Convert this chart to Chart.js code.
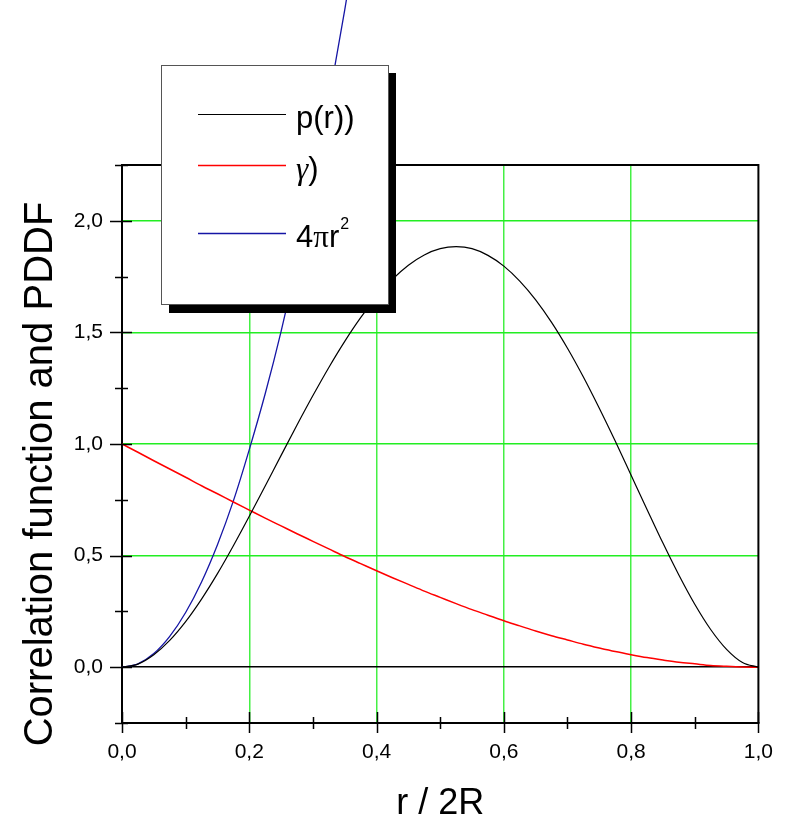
<!DOCTYPE html>
<html>
<head>
<meta charset="utf-8">
<script src="https://cdn.jsdelivr.net/npm/chart.js@4"></script>
<style>
  body { margin: 0; background: #fff; }
</style>
</head>
<body>
<canvas id="pddf" width="790" height="819"></canvas>
<script>
// r / 2R positions
const rValues = [0, 0.025, 0.05, 0.075, 0.1, 0.125, 0.15, 0.175, 0.2, 0.225, 0.25, 0.275, 0.3, 0.325,
    0.35, 0.375, 0.4, 0.425, 0.45, 0.475, 0.5, 0.525, 0.55, 0.575, 0.6, 0.625, 0.65, 0.675, 0.7,
    0.725, 0.75, 0.775, 0.8, 0.825, 0.85, 0.875, 0.9, 0.925, 0.95, 0.975, 1.0];

// p(r)  (black)
const pddf = [0, 0.014, 0.056, 0.120, 0.204, 0.305, 0.419, 0.544, 0.676, 0.812, 0.949, 1.085, 1.217,
    1.343, 1.460, 1.566, 1.659, 1.738, 1.801, 1.847, 1.875, 1.884, 1.875, 1.845, 1.797, 1.730,
    1.646, 1.545, 1.429, 1.300, 1.160, 1.013, 0.860, 0.707, 0.556, 0.413, 0.282, 0.169, 0.080,
    0.021, 0];

// gamma(r)  (red)
const gamma = [1.0, 0.963, 0.925, 0.888, 0.851, 0.813, 0.777, 0.740, 0.704, 0.668, 0.633, 0.598,
    0.564, 0.530, 0.496, 0.464, 0.432, 0.401, 0.371, 0.341, 0.313, 0.285, 0.258, 0.233, 0.208,
    0.185, 0.162, 0.141, 0.122, 0.103, 0.086, 0.070, 0.056, 0.043, 0.032, 0.022, 0.015, 0.008,
    0.004, 0.001, 0];

// 4 pi r^2  (blue), runs off the top of the picture
const sphereR = [0, 0.025, 0.05, 0.075, 0.1, 0.125, 0.15, 0.175, 0.2, 0.225, 0.25, 0.275, 0.3,
    0.325, 0.35, 0.375];
const sphere = [0, 0.015, 0.061, 0.138, 0.245, 0.382, 0.549, 0.745, 0.975, 1.225, 1.505, 1.820,
    2.165, 2.540, 2.945, 3.380];

const xTicks = [0, 0.2, 0.4, 0.6, 0.8, 1.0];
const yTicks = [0, 0.5, 1.0, 1.5, 2.0];

const toPts = (xs, ys) => xs.map((x, i) => ({ x: x, y: ys[i] }));
const comma = v => Number(v).toFixed(1).replace(".", ",");

const FONT = "'Liberation Sans', Arial, sans-serif";
const SERIF = "'Liberation Serif', 'Times New Roman', serif";

const decor = {
    id: "decor",
    afterDatasetsDraw(chart) {
        const ctx = chart.ctx;
        const a = chart.chartArea;
        const xs = chart.scales.x, ys = chart.scales.y;
        ctx.save();

        // frame top & right
        ctx.strokeStyle = "#000";
        ctx.lineWidth = 2;
        ctx.beginPath();
        ctx.moveTo(a.left, a.top);
        ctx.lineTo(a.right, a.top);
        ctx.lineTo(a.right, a.bottom);
        ctx.stroke();

        // ticks
        ctx.lineWidth = 1.5;
        ctx.beginPath();
        for (let v = -0.25; v <= 2.26; v += 0.25) {
            const py = Math.round(ys.getPixelForValue(v)) + 0.5;
            const major = Math.abs(v * 2 - Math.round(v * 2)) < 1e-6;
            ctx.moveTo(a.left - (major ? 12 : 7), py);
            ctx.lineTo(a.left + (major ? 10 : 6), py);
        }
        for (let v = 0; v <= 1.001; v += 0.1) {
            const px = Math.round(xs.getPixelForValue(v)) + 0.5;
            const major = Math.round(v * 10) % 2 === 0;
            ctx.moveTo(px, a.bottom + (major ? 10 : 6));
            ctx.lineTo(px, a.bottom - (major ? 11 : 6));
        }
        ctx.stroke();

        // legend box with shadow
        const bx = 161, by = 65, bw = 227, bh = 239;
        ctx.fillStyle = "#000";
        ctx.fillRect(bx + 8, by + 8, bw, bh + 1);
        ctx.fillStyle = "#fff";
        ctx.fillRect(bx, by, bw, bh);
        ctx.strokeStyle = "#555";
        ctx.lineWidth = 1;
        ctx.strokeRect(bx + 0.5, by + 0.5, bw, bh);

        const rows = [114, 165, 233];
        chart.data.datasets.forEach((ds, i) => {
            ctx.strokeStyle = ds.borderColor;
            ctx.lineWidth = ds.borderWidth;
            ctx.beginPath();
            ctx.moveTo(198, rows[i] + 0.5);
            ctx.lineTo(286, rows[i] + 0.5);
            ctx.stroke();
        });

        ctx.fillStyle = "#000";
        ctx.textAlign = "left";
        ctx.textBaseline = "alphabetic";
        let tx = 296;
        ctx.font = "31px " + FONT;
        ctx.fillText("p(r))", tx, rows[0] + 14);

        ctx.font = "italic 31px " + SERIF;
        ctx.fillText("\u03b3", tx, rows[1] + 14);
        tx += ctx.measureText("\u03b3").width;
        ctx.font = "31px " + FONT;
        ctx.fillText(")", tx, rows[1] + 14);

        tx = 296;
        ctx.fillText("4", tx, rows[2] + 14);
        tx += ctx.measureText("4").width;
        ctx.font = "31px " + SERIF;
        ctx.fillText("\u03c0", tx, rows[2] + 14);
        tx += ctx.measureText("\u03c0").width;
        ctx.font = "31px " + FONT;
        ctx.fillText("r", tx, rows[2] + 14);
        tx += ctx.measureText("r").width;
        ctx.font = "16px " + FONT;
        ctx.fillText("2", tx + 1, rows[2] - 4);

        // axis titles
        ctx.font = "36px " + FONT;
        ctx.textAlign = "center";
        ctx.fillText("r / 2R", (a.left + a.right) / 2, 814);

        ctx.save();
        ctx.translate(52, 474);
        ctx.rotate(-Math.PI / 2);
        ctx.font = "40px " + FONT;
        ctx.fillText("Correlation function and PDDF", 0, 0);
        ctx.restore();

        ctx.restore();
    }
};

new Chart(document.getElementById("pddf"), {
    type: "scatter",
    data: {
        datasets: [
            { label: "p(r))", data: toPts(rValues, pddf), borderColor: "#000", borderWidth: 1.2 },
            { label: "gamma", data: toPts(rValues, gamma), borderColor: "#ff0000", borderWidth: 1.5 },
            { label: "4pi r2", data: toPts(sphereR, sphere), borderColor: "#1515a5", borderWidth: 1.3, clip: false }
        ]
    },
    options: {
        responsive: false,
        animation: false,
        showLine: true,
        elements: {
            point: { radius: 0, hoverRadius: 0 },
            line: { cubicInterpolationMode: "monotone", fill: false }
        },
        layout: { padding: { left: 0, top: 165, right: 29, bottom: 0 } },
        plugins: { legend: { display: false }, tooltip: { enabled: false } },
        scales: {
            x: {
                type: "linear",
                min: 0, max: 1,
                afterFit: s => { s.height = 96; },
                afterBuildTicks: s => { s.ticks = xTicks.map(v => ({ value: v })); },
                ticks: { callback: comma, font: { family: FONT, size: 21 }, color: "#000", padding: 17, maxRotation: 0 },
                grid: {
                    drawTicks: false,
                    lineWidth: 1.5,
                    color: c => (c.tick && (c.tick.value === 0 || c.tick.value === 1)) ? "rgba(0,0,0,0)" : "#44f044"
                },
                border: { display: true, color: "#000", width: 2 }
            },
            y: {
                type: "linear",
                min: -0.25, max: 2.25,
                afterFit: s => { s.width = 122; },
                afterBuildTicks: s => { s.ticks = yTicks.map(v => ({ value: v })); },
                ticks: { callback: comma, font: { family: FONT, size: 21 }, color: "#000", padding: 19 },
                grid: {
                    drawTicks: false,
                    lineWidth: 1.5,
                    color: c => (c.tick && c.tick.value === 0) ? "#000" : "#22ee22"
                },
                border: { display: true, color: "#000", width: 2 }
            }
        }
    },
    plugins: [decor]
});
</script>
</body>
</html>
